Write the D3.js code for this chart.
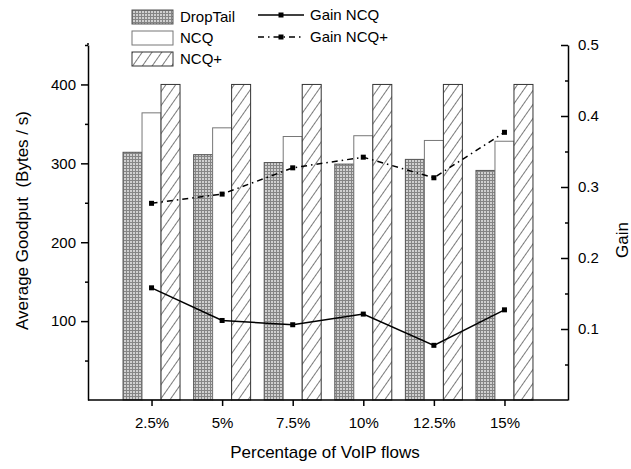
<!DOCTYPE html>
<html>
<head>
<meta charset="utf-8">
<script src="https://cdn.jsdelivr.net/npm/d3@7"></script>
<style>
  html, body { margin: 0; padding: 0; background: #fff; }
  svg text { font-family: "Liberation Sans", Arial, sans-serif; fill: #000; white-space: pre; }
</style>
</head>
<body>
<svg id="chart" width="631" height="469"></svg>
<script>
// data
const categories = ['2.5%', '5%', '7.5%', '10%', '12.5%', '15%'];
const dropTail = [314, 311, 301, 299, 305, 291];
const ncq = [364, 345, 334, 335, 329, 328];
const ncqPlus = [400, 400, 400, 400, 400, 400];
const gainNcq = [0.158, 0.112, 0.106, 0.121, 0.077, 0.127];
const gainNcqPlus = [0.277, 0.290, 0.327, 0.342, 0.313, 0.377];

const leftTicks = [100, 200, 300, 400];
const leftMinor = [50, 150, 250, 350, 450];
const rightTicks = [0.1, 0.2, 0.3, 0.4, 0.5];
const rightMinor = [0.05, 0.15, 0.25, 0.35, 0.45];

const svg = d3.select('#chart');

// Layout
const plot = { left: 88, right: 568, top: 45, bottom: 400 };

const x = d3.scalePoint().domain(categories).range([plot.left, plot.right]).padding(0.9);
const yL = d3.scaleLinear().domain([0, 450]).range([plot.bottom, plot.top]);
const yR = d3.scaleLinear().domain([0, 0.5]).range([plot.bottom, plot.top]);
const barW = 19;

// patterns
const defs = svg.append('defs');
const mesh = defs.append('pattern')
  .attr('id', 'mesh').attr('patternUnits', 'userSpaceOnUse')
  .attr('width', 3).attr('height', 3);
mesh.append('rect').attr('width', 3).attr('height', 3).attr('fill', '#d0d0d0');
mesh.append('rect').attr('width', 3).attr('height', 1).attr('fill', '#858585');
mesh.append('rect').attr('width', 1).attr('height', 3).attr('fill', '#858585');

const hatch = defs.append('pattern')
  .attr('id', 'hatch').attr('patternUnits', 'userSpaceOnUse')
  .attr('width', 8).attr('height', 8)
  .attr('patternTransform', 'rotate(35)');
hatch.append('rect').attr('width', 8).attr('height', 8).attr('fill', '#fff');
hatch.append('line').attr('x1', 0).attr('y1', 0).attr('x2', 0).attr('y2', 8)
  .attr('stroke', '#222').attr('stroke-width', 1.2);

const SERIES = [
  { name: 'DropTail', values: dropTail, fill: 'url(#mesh)', stroke: '#555', off: -1 },
  { name: 'NCQ', values: ncq, fill: '#fff', stroke: '#777', off: 0 },
  { name: 'NCQ+', values: ncqPlus, fill: 'url(#hatch)', stroke: '#333', off: 1 }
];

// Bars
SERIES.forEach(s => {
  svg.append('g').selectAll('rect')
    .data(s.values)
    .join('rect')
    .attr('x', (d, i) => x(categories[i]) + s.off * barW - barW / 2)
    .attr('y', d => yL(d))
    .attr('width', barW)
    .attr('height', d => yL(0) - yL(d))
    .attr('fill', s.fill)
    .attr('stroke', s.stroke)
    .attr('stroke-width', 1);
});

// Gain lines
const LINES = [
  { name: 'Gain NCQ', values: gainNcq, dash: null },
  { name: 'Gain NCQ+', values: gainNcqPlus, dash: '6,4,1.5,4' }
];

LINES.forEach(l => {
  const line = d3.line()
    .x((d, i) => x(categories[i]))
    .y(d => yR(d));
  svg.append('path')
    .attr('d', line(l.values))
    .attr('fill', 'none')
    .attr('stroke', '#000')
    .attr('stroke-width', 1.5)
    .attr('stroke-dasharray', l.dash);
  svg.append('g').selectAll('rect')
    .data(l.values)
    .join('rect')
    .attr('x', (d, i) => x(categories[i]) - 2.5)
    .attr('y', d => yR(d) - 2.5)
    .attr('width', 5)
    .attr('height', 5)
    .attr('fill', '#000');
});

// Axes
const axisStyle = g => {
  g.select('.domain').attr('stroke', '#000').attr('stroke-width', 1.5);
  g.selectAll('.tick line').attr('stroke', '#000').attr('stroke-width', 1.5);
  g.selectAll('.tick text').attr('font-size', 15);
};

// minor ticks first
svg.append('g')
  .attr('transform', `translate(${plot.left},0)`)
  .call(d3.axisLeft(yL).tickValues(leftMinor).tickSize(3).tickFormat(''))
  .call(g => g.select('.domain').remove())
  .call(g => g.selectAll('line').attr('stroke', '#000').attr('stroke-width', 1.5));

svg.append('g')
  .attr('transform', `translate(${plot.left},0)`)
  .call(d3.axisLeft(yL).tickValues(leftTicks).tickSize(7).tickSizeOuter(0).tickPadding(5))
  .call(axisStyle);

svg.append('g')
  .attr('transform', `translate(${plot.right},0)`)
  .call(d3.axisLeft(yR).tickValues(rightMinor).tickSize(3).tickFormat(''))
  .call(g => g.select('.domain').remove())
  .call(g => g.selectAll('line').attr('stroke', '#000').attr('stroke-width', 1.5));

svg.append('g')
  .attr('transform', `translate(${plot.right},0)`)
  .call(d3.axisRight(yR).tickValues(rightTicks).tickSize(0).tickSizeOuter(0).tickPadding(10).tickFormat(d3.format('.1f')))
  .call(axisStyle);

svg.append('g')
  .attr('transform', `translate(${plot.right},0)`)
  .call(d3.axisLeft(yR).tickValues(rightTicks).tickSize(7).tickFormat(''))
  .call(g => g.select('.domain').remove())
  .call(g => g.selectAll('line').attr('stroke', '#000').attr('stroke-width', 1.5));

// top stub on left axis
svg.append('line')
  .attr('x1', plot.left).attr('x2', plot.left)
  .attr('y1', plot.top - 2).attr('y2', plot.top)
  .attr('stroke', '#000').attr('stroke-width', 1.5);

svg.append('g')
  .attr('transform', `translate(0,${plot.bottom})`)
  .call(d3.axisBottom(x).tickSize(6).tickSizeOuter(0).tickPadding(11))
  .call(axisStyle)
  .call(g => g.select('.domain').attr('d', `M${plot.left},0H${plot.right}`));

// Axis titles
svg.append('text')
  .attr('transform', `translate(28,${(plot.top + plot.bottom) / 2 - 2}) rotate(-90)`)
  .attr('text-anchor', 'middle')
  .attr('font-size', 17)
  .text('Average Goodput  (Bytes / s)');

svg.append('text')
  .attr('transform', `translate(628,240) rotate(-90)`)
  .attr('text-anchor', 'middle')
  .attr('font-size', 17)
  .text('Gain');

svg.append('text')
  .attr('x', 325)
  .attr('y', 458)
  .attr('text-anchor', 'middle')
  .attr('font-size', 17)
  .text('Percentage of VoIP flows');

// Legend: bars
const legBars = svg.append('g').attr('transform', 'translate(132,10)');
SERIES.forEach((s, i) => {
  const g = legBars.append('g').attr('transform', `translate(0,${i * 21})`);
  g.append('rect')
    .attr('width', 41).attr('height', 14)
    .attr('fill', s.fill).attr('stroke', s.stroke);
  g.append('text')
    .attr('x', 48).attr('y', 12)
    .attr('font-size', 15)
    .text(s.name);
});

// Legend: lines
const legLines = svg.append('g').attr('transform', 'translate(258,15)');
LINES.forEach((l, i) => {
  const g = legLines.append('g').attr('transform', `translate(0,${i * 22})`);
  g.append('line')
    .attr('x1', 0).attr('x2', 46)
    .attr('stroke', '#000').attr('stroke-width', 1.5)
    .attr('stroke-dasharray', l.dash);
  g.append('rect')
    .attr('x', 20.5).attr('y', -2.5).attr('width', 5).attr('height', 5)
    .attr('fill', '#000');
  g.append('text')
    .attr('x', 52).attr('y', 5)
    .attr('font-size', 15)
    .text(l.name);
});
</script>
</body>
</html>
